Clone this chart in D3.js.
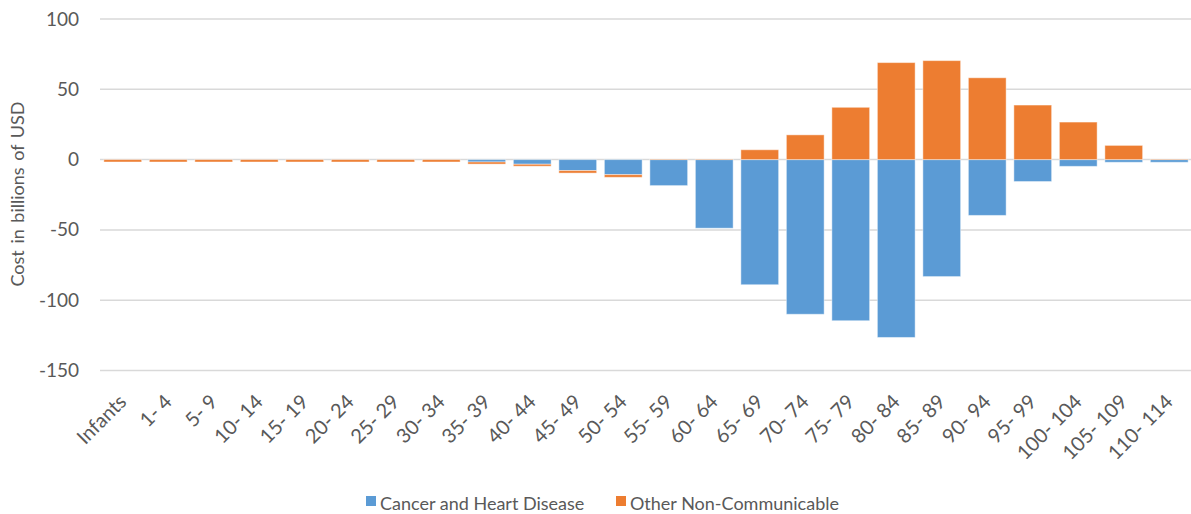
<!DOCTYPE html>
<html>
<head>
<meta charset="utf-8">
<script src="https://cdn.jsdelivr.net/npm/d3@7"></script>
<style>
  body { margin: 0; background: #fff; }
  text { font-family: Lato, "Liberation Sans", sans-serif; fill: #595959; }
</style>
</head>
<body>
<div id="chart"></div>
<script>
// age groups along the x axis
var ageGroups = ["Infants", "1- 4", "5- 9", "10- 14", "15- 19", "20- 24", "25- 29", "30- 34",
    "35- 39", "40- 44", "45- 49", "50- 54", "55- 59", "60- 64", "65- 69", "70- 74",
    "75- 79", "80- 84", "85- 89", "90- 94", "95- 99", "100- 104", "105- 109", "110- 114"];

// cost in billions of USD
var cancerHeart = [0, 0, 0, 0, 0, 0, 0, 0, -1.7, -3.3, -7.8, -10.7, -18.5, -48.8,
    -89, -110, -114.6, -126.5, -83.2, -39.7, -15.6, -4.8, -1.9, -1.9];
var otherNonComm = [-1.7, -1.7, -1.7, -1.7, -1.7, -1.7, -1.7, -1.7, -1.5, -1.4, -1.8, -1.9, 0.4, 0.4,
    7, 17.6, 37.2, 69, 70.4, 58.2, 38.8, 26.7, 10.1, 0.4];

var seriesNames = ["Cancer and Heart Disease", "Other Non-Communicable"];
var seriesColors = ["#5B9BD5", "#ED7D31"];
var yTicks = [-150, -100, -50, 0, 50, 100];

var width = 1191, height = 514;
var plot = {left: 100, right: 1192, top: 19, bottom: 370.5};

var svg = d3.select("#chart").append("svg")
    .attr("width", width)
    .attr("height", height);

var x = d3.scaleBand()
    .domain(ageGroups)
    .range([plot.left, plot.right])
    .paddingInner(0.17)
    .paddingOuter(0.085);

var y = d3.scaleLinear()
    .domain([-150, 100])
    .range([plot.bottom, plot.top]);

// gridlines
svg.append("g").selectAll("line")
    .data(yTicks)
    .enter().append("line")
    .attr("x1", plot.left).attr("x2", plot.right)
    .attr("y1", function(d) { return y(d); })
    .attr("y2", function(d) { return y(d); })
    .attr("stroke", "#d9d9d9")
    .attr("stroke-width", 1.5);

// y axis labels (plain hyphen for negatives, like the original)
var yAxis = svg.append("g")
    .attr("transform", "translate(" + (plot.left - 21) + ",0)")
    .call(d3.axisLeft(y).tickValues(yTicks).tickSize(0).tickPadding(0)
        .tickFormat(function(d) { return String(d); }));
yAxis.select(".domain").remove();
yAxis.selectAll("text")
    .attr("font-family", null)
    .style("font-size", "19px")
    .attr("fill", "#595959");

// stacked bars, negatives stack downward
var table = ageGroups.map(function(g, i) {
    return {group: g, s0: cancerHeart[i], s1: otherNonComm[i]};
});
var stack = d3.stack()
    .keys(["s0", "s1"])
    .offset(d3.stackOffsetDiverging);
var layers = stack(table);

svg.append("g").selectAll("g")
    .data(layers)
    .enter().append("g")
    .attr("fill", function(d, i) { return seriesColors[i]; })
    .selectAll("rect")
    .data(function(d) { return d; })
    .enter().append("rect")
    .attr("x", function(d) { return x(d.data.group); })
    .attr("width", x.bandwidth())
    .attr("y", function(d) { return y(Math.max(d[0], d[1])); })
    .attr("height", function(d) { return Math.abs(y(d[0]) - y(d[1])); })
    .attr("stroke", "#fff")
    .attr("stroke-opacity", 0.45)
    .attr("stroke-width", 1);

// category labels, rotated
svg.append("g").selectAll("text")
    .data(ageGroups)
    .enter().append("text")
    .attr("transform", function(d) {
        return "translate(" + (x(d) + x.bandwidth() / 2 + 5) + ",403) rotate(-45)";
    })
    .attr("text-anchor", "end")
    .style("font-size", "20px")
    .text(function(d) { return d; });

// y axis title
svg.append("text")
    .attr("transform", "translate(24,194) rotate(-90)")
    .attr("text-anchor", "middle")
    .style("font-size", "18px")
    .style("word-spacing", "2px")
    .text("Cost in billions of USD");

// legend
var legendX = [366, 616];
var legend = svg.append("g").selectAll("g")
    .data(seriesNames)
    .enter().append("g")
    .attr("transform", function(d, i) { return "translate(" + legendX[i] + ",496)"; });
legend.append("rect")
    .attr("width", 10).attr("height", 10)
    .attr("fill", function(d, i) { return seriesColors[i]; });
legend.append("text")
    .attr("x", 14).attr("y", 14)
    .style("font-size", "18px")
    .text(function(d) { return d; });
</script>
</body>
</html>
